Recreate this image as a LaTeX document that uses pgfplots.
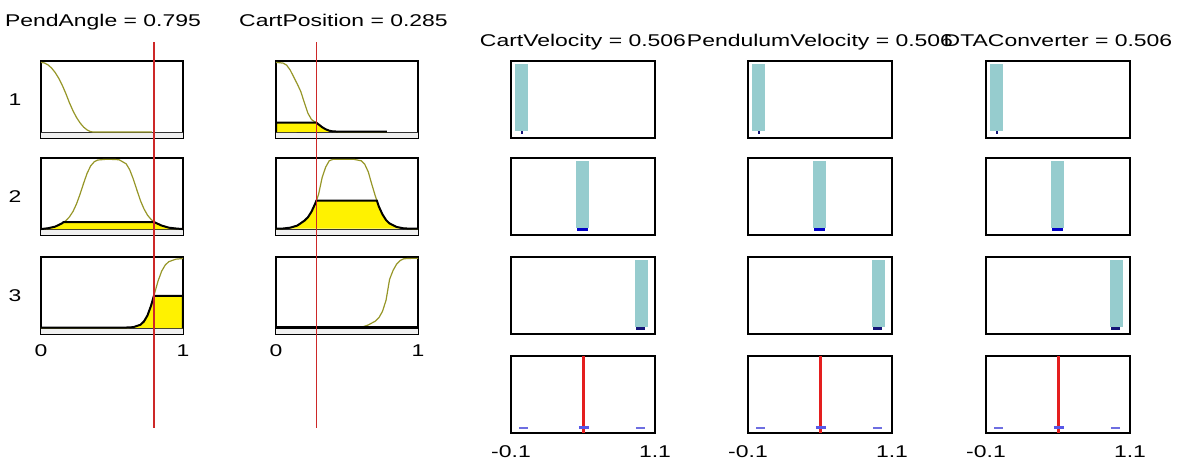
\documentclass[border=0pt]{standalone}
\usepackage{pgfplots}
\pgfplotsset{compat=1.18}
\usepackage{fontspec}
\setmainfont{Liberation Sans}
\newfontfamily\mfont[FakeStretch=1.35]{Liberation Sans}
\newcommand{\tf}{\mfont\fontsize{8.5}{10}\selectfont}
\definecolor{mfolive}{RGB}{150,150,40}
\definecolor{tealbar}{RGB}{150,204,206}
\definecolor{inred}{RGB}{205,40,40}
\definecolor{outred}{RGB}{228,30,30}
\definecolor{dkblue}{RGB}{0,0,200}
\definecolor{navyb}{RGB}{20,20,120}
\definecolor{lav}{RGB}{110,110,225}
\pgfplotsset{
  mfbox/.style={scale only axis, height=38.5pt, clip=false,
    axis line style={line width=0.8pt},
    xtick=\empty, ytick=\empty, anchor=south west, tick style={draw=none},
    xticklabel style={font=\tf, anchor=center, yshift=-8.25pt}},
  inp/.style={mfbox, width=71pt, xmin=0, xmax=1, ymin=-0.085, ymax=1.02},
  outp/.style={mfbox, width=72pt, xmin=-0.1, xmax=1.1, ymin=0, ymax=1},
}
\newcommand{\inband}{%
  \addplot[fill=gray!12, draw=none] coordinates {(0,-0.085)(0,0)(1,0)(1,-0.085)};
  \addplot[black!80, line width=0.5pt] coordinates {(0,0)(1,0)};
}
\newcommand{\outcol}[2]{%
\begin{axis}[outp, at={(#1pt,162pt)}]
  \addplot[fill=tealbar, draw=none] coordinates {(-0.064,0.09)(-0.064,0.96)(0.044,0.96)(0.044,0.09)};
  \addplot[navyb, line width=1.2pt] coordinates {(-0.014,0.07)(0.0,0.07)};
  \node[font=\tf, anchor=base, yshift=7.5pt] at (rel axis cs:0.5,1) {#2 = 0.506};
\end{axis}
\begin{axis}[outp, at={(#1pt,113.5pt)}]
  \addplot[fill=tealbar, draw=none] coordinates {(0.443,0.09)(0.443,0.96)(0.551,0.96)(0.551,0.09)};
  \addplot[dkblue, line width=1.5pt] coordinates {(0.45,0.07)(0.545,0.07)};
\end{axis}
\begin{axis}[outp, at={(#1pt,64pt)}]
  \addplot[fill=tealbar, draw=none] coordinates {(0.931,0.09)(0.931,0.96)(1.039,0.96)(1.039,0.09)};
  \addplot[navyb, line width=1.3pt] coordinates {(0.945,0.07)(1.02,0.07)};
\end{axis}
\begin{axis}[outp, at={(#1pt,14.5pt)}, xtick={-0.1,1.1}, xticklabels={-0.1,1.1}, xticklabel style={yshift=-1.1pt}]
  \addplot[outred, line width=1.6pt] coordinates {(0.506,0)(0.506,1)};
  \addplot[lav, line width=1pt] coordinates {(-0.03,0.07)(0.045,0.07)};
  \addplot[lav!80!blue, line width=1.7pt] coordinates {(0.466,0.07)(0.546,0.07)};
  \addplot[lav, line width=1pt] coordinates {(0.94,0.07)(1.02,0.07)};
\end{axis}
}
\begin{document}
\begin{tikzpicture}
\path[use as bounding box] (0,0) rectangle (590pt,231pt);
% ---------------- PendAngle ----------------
\begin{axis}[inp, at={(20.5pt,162pt)}]
  \inband
  \addplot[mfolive, line width=0.6pt] coordinates {(0,1)(0.025,0.991)(0.05,0.963)(0.075,0.918)(0.1,0.854)(0.125,0.772)(0.15,0.671)(0.175,0.553)(0.2,0.422)(0.225,0.307)(0.25,0.21)(0.275,0.132)(0.3,0.072)(0.325,0.03)(0.35,0.006)(0.37,0)(0.78,0)};
  \node[font=\tf, xshift=-13pt] at (rel axis cs:0,0.5) {1};
  \node[font=\tf, anchor=base, xshift=-4.5pt, yshift=17.15pt] at (rel axis cs:0.5,1) {PendAngle = 0.795};
\end{axis}
\begin{axis}[inp, at={(20.5pt,113.5pt)}]
  \inband
  \addplot[mfolive, line width=0.6pt] coordinates {(0,0)(0.05,0.012)(0.1,0.035)(0.125,0.06)(0.15,0.085)(0.175,0.121)(0.2,0.174)(0.225,0.251)(0.25,0.36)(0.275,0.5)(0.3,0.657)(0.325,0.802)(0.35,0.907)(0.375,0.966)(0.4,0.991)(0.45,1)(0.5,1)(0.55,0.995)(0.6,0.936)(0.625,0.85)(0.65,0.718)(0.675,0.562)(0.7,0.41)(0.725,0.291)(0.75,0.2)(0.775,0.139)(0.8,0.097)(0.85,0.05)(0.9,0.02)(0.95,0.008)(1,0)};
  \addplot[fill=yellow, draw=black, line width=1pt] coordinates {(0,0)(0.05,0.012)(0.1,0.035)(0.125,0.06)(0.15,0.085)(0.158,0.1)(0.798,0.1)(0.8,0.097)(0.85,0.05)(0.9,0.02)(0.95,0.008)(1,0)};
  \node[font=\tf, xshift=-13pt] at (rel axis cs:0,0.5) {2};
\end{axis}
\begin{axis}[inp, at={(20.5pt,64pt)}, xtick={0,1}, xticklabels={0,1}]
  \inband
  \addplot[mfolive, line width=0.6pt] coordinates {(0,0)(0.5,0)(0.55,0.001)(0.6,0.0025)(0.65,0.011)(0.7,0.047)(0.725,0.095)(0.75,0.182)(0.775,0.321)(0.8,0.5)(0.825,0.679)(0.85,0.818)(0.875,0.905)(0.9,0.953)(0.95,0.989)(1,0.998)};
  \addplot[fill=yellow, draw=black, line width=1pt] coordinates {(0,0.006)(0.55,0.006)(0.6,0.008)(0.65,0.013)(0.7,0.047)(0.725,0.095)(0.75,0.182)(0.775,0.321)(0.795,0.463)(1,0.463)(1,0)};
  \node[font=\tf, xshift=-13pt] at (rel axis cs:0,0.5) {3};
  \addplot[inred, line width=0.75pt] coordinates {(0.795,4.105)(0.795,-1.433)};
\end{axis}
% ---------------- CartPosition ----------------
\begin{axis}[inp, at={(138pt,162pt)}]
  \inband
  \addplot[mfolive, line width=0.6pt] coordinates {(0,1)(0.05,0.99)(0.075,0.96)(0.1,0.89)(0.125,0.79)(0.15,0.69)(0.175,0.58)(0.2,0.42)(0.225,0.27)(0.25,0.18)(0.275,0.145)(0.285,0.134)(0.3,0.11)(0.325,0.07)(0.35,0.04)(0.375,0.02)(0.4,0.01)(0.45,0)(0.78,0)};
  \addplot[fill=yellow, draw=black, line width=1pt] coordinates {(0,0)(0,0.134)(0.285,0.134)(0.3,0.11)(0.325,0.07)(0.35,0.04)(0.375,0.02)(0.4,0.01)(0.45,0.006)(0.78,0.006)};
  \node[font=\tf, anchor=base, xshift=-1.75pt, yshift=17.15pt] at (rel axis cs:0.5,1) {CartPosition = 0.285};
\end{axis}
\begin{axis}[inp, at={(138pt,113.5pt)}]
  \inband
  \addplot[mfolive, line width=0.6pt] coordinates {(0,0)(0.05,0.005)(0.1,0.02)(0.15,0.05)(0.2,0.12)(0.225,0.17)(0.25,0.25)(0.275,0.36)(0.285,0.41)(0.3,0.5)(0.325,0.74)(0.35,0.89)(0.375,0.98)(0.4,1)(0.55,1)(0.6,0.98)(0.625,0.93)(0.65,0.82)(0.675,0.64)(0.7,0.47)(0.71,0.41)(0.725,0.32)(0.75,0.21)(0.775,0.13)(0.8,0.08)(0.85,0.03)(0.9,0.01)(0.95,0.003)(1,0)};
  \addplot[fill=yellow, draw=black, line width=1pt] coordinates {(0,0.006)(0.05,0.008)(0.1,0.02)(0.15,0.05)(0.2,0.12)(0.225,0.17)(0.25,0.25)(0.275,0.36)(0.285,0.41)(0.71,0.41)(0.725,0.32)(0.75,0.21)(0.775,0.13)(0.8,0.08)(0.85,0.03)(0.9,0.01)(0.95,0.006)(1,0.006)};
\end{axis}
\begin{axis}[inp, at={(138pt,64pt)}, xtick={0,1}, xticklabels={0,1}]
  \inband
  \addplot[mfolive, line width=0.6pt] coordinates {(0,0)(0.55,0)(0.6,0.01)(0.65,0.045)(0.7,0.1)(0.725,0.15)(0.75,0.24)(0.775,0.4)(0.8,0.7)(0.825,0.83)(0.85,0.92)(0.875,0.97)(0.9,0.995)(0.95,1)(1,1)};
  \addplot[black, line width=1.3pt] coordinates {(0,0.008)(1,0.008)};
  \addplot[inred, line width=0.75pt] coordinates {(0.285,4.105)(0.285,-1.433)};
\end{axis}
% ---------------- Outputs ----------------
\outcol{255.5}{CartVelocity}
\outcol{374}{PendulumVelocity}
\outcol{493}{DTAConverter}
\end{tikzpicture}
\end{document}
